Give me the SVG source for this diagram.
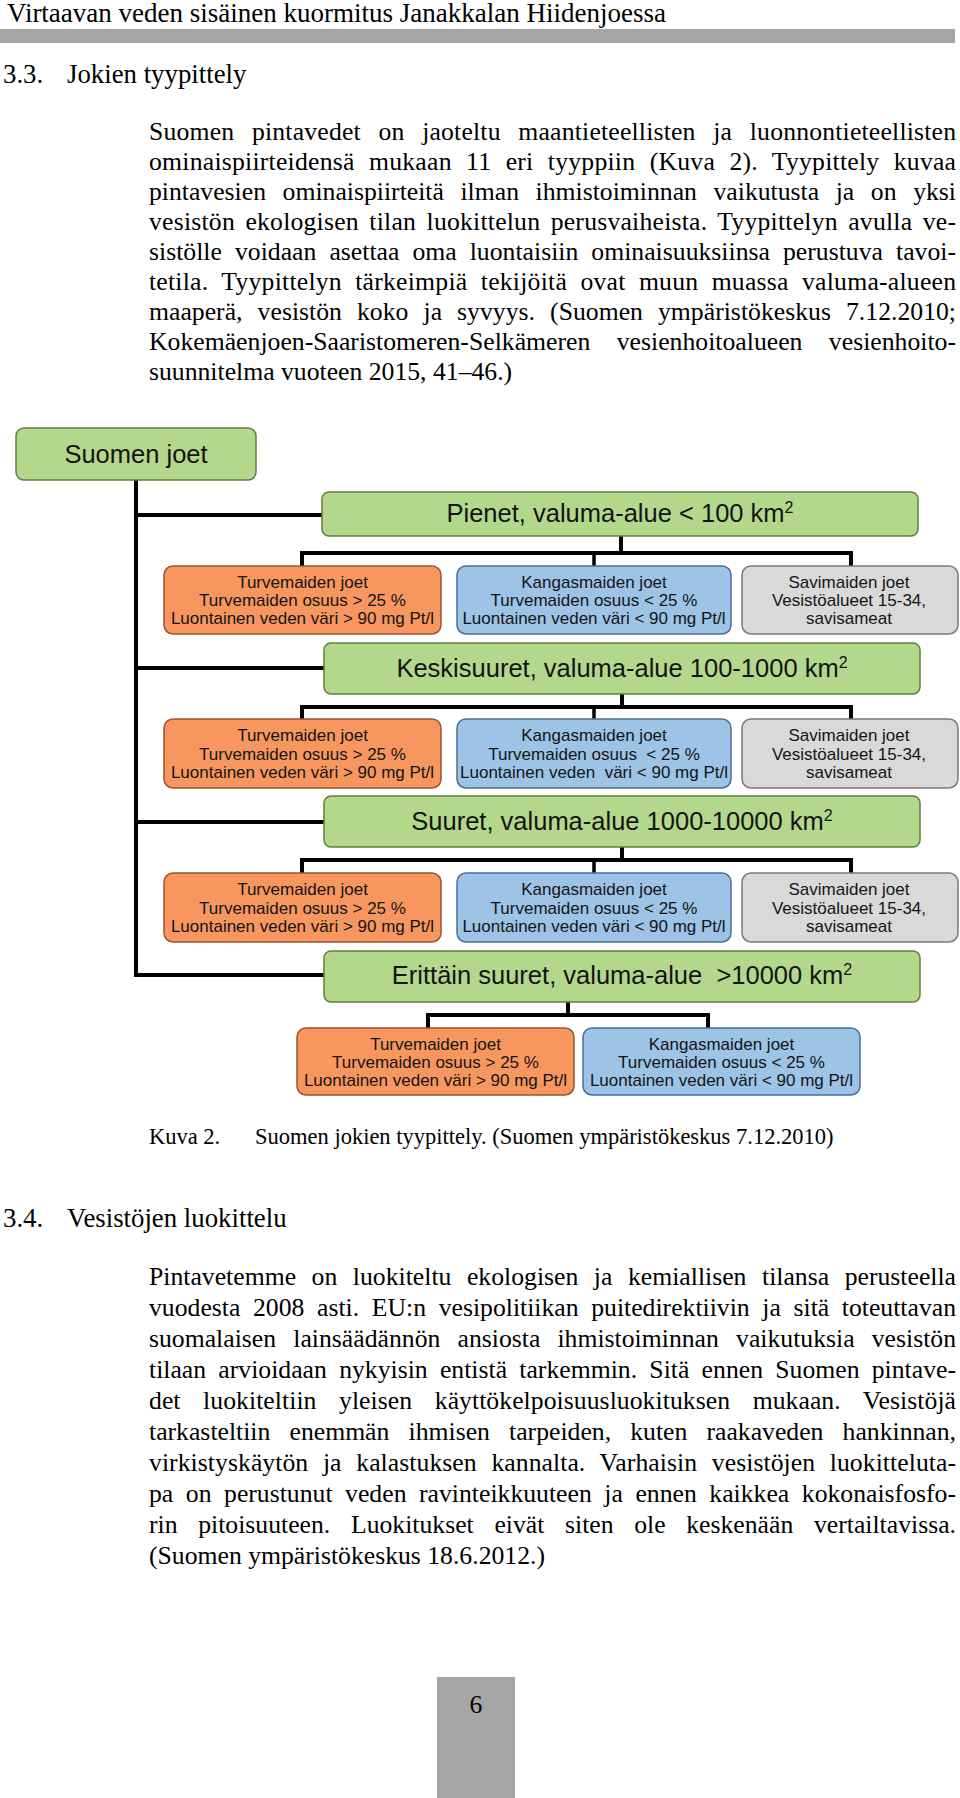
<svg xmlns="http://www.w3.org/2000/svg" width="960" height="1798" viewBox="0 0 960 1798">
<style>
.s{font-family:"Liberation Serif","Times New Roman",serif;fill:#000}
.b{font-size:25.7px}
.hd{font-size:27px}
.h{font-size:26.8px}
.c{font-size:22.5px}
.d{font-family:"Liberation Sans",Arial,sans-serif;fill:#141414;text-anchor:middle}
.lv{font-size:25.5px}
.sm{font-size:17px}
.g{fill:#b3d88b;stroke:#5f7f3c;stroke-width:1.5}
.o{fill:#f7975f;stroke:#9a5330;stroke-width:1.5}
.bl{fill:#9dc3e6;stroke:#4b6e98;stroke-width:1.5}
.gr{fill:#d9d9d9;stroke:#7a7a7a;stroke-width:1.5}
.ln{fill:none;stroke:#000;stroke-width:4;stroke-linejoin:miter;stroke-linecap:butt}
.ln3{fill:none;stroke:#000;stroke-width:3.5}
</style>

<g id="page-header">
<text class="s hd" x="7" y="22">Virtaavan veden sisäinen kuormitus Janakkalan Hiidenjoessa</text>
<rect x="0" y="29" width="955" height="14" fill="#a6a6a6"/>
</g>

<g id="heading-33">
<text class="s h" x="3" y="83">3.3.</text>
<text class="s h" x="67" y="83">Jokien tyypittely</text>
</g>

<g id="paragraph-1" class="s b">
<text x="149" y="140" textLength="807" lengthAdjust="spacing" word-spacing="11">Suomen pintavedet on jaoteltu maantieteellisten ja luonnontieteellisten</text>
<text x="149" y="170" textLength="807" lengthAdjust="spacing" word-spacing="7.7">ominaispiirteidensä mukaan 11 eri tyyppiin (Kuva 2). Tyypittely kuvaa</text>
<text x="149" y="200" textLength="807" lengthAdjust="spacing" word-spacing="10.2">pintavesien ominaispiirteitä ilman ihmistoiminnan vaikutusta ja on yksi</text>
<text x="149" y="230" textLength="807" lengthAdjust="spacing" word-spacing="3.8">vesistön ekologisen tilan luokittelun perusvaiheista. Tyypittelyn avulla ve-</text>
<text x="149" y="260" textLength="807" lengthAdjust="spacing" word-spacing="6.6">sistölle voidaan asettaa oma luontaisiin ominaisuuksiinsa perustuva tavoi-</text>
<text x="149" y="290" textLength="807" lengthAdjust="spacing" word-spacing="6.7">tetila. Tyypittelyn tärkeimpiä tekijöitä ovat muun muassa valuma-alueen</text>
<text x="149" y="320" textLength="807" lengthAdjust="spacing" word-spacing="8.6">maaperä, vesistön koko ja syvyys. (Suomen ympäristökeskus 7.12.2010;</text>
<text x="149" y="350" textLength="807" lengthAdjust="spacing" word-spacing="20">Kokemäenjoen-Saaristomeren-Selkämeren vesienhoitoalueen vesienhoito-</text>
<text x="149" y="380">suunnitelma vuoteen 2015, 41–46.)</text>
</g>

<g id="connectors">
<path class="ln" d="M136,480 V975 H324"/>
<path class="ln" d="M136,515 H322"/>
<path class="ln" d="M136,668 H324"/>
<path class="ln" d="M136,822 H324"/>
<path class="ln" d="M621,536 V553 M302,567 V553 H851 V567"/>
<path class="ln3" d="M594,553 V567"/>
<path class="ln" d="M622,694 V707 M302,720 V707 H851 V720"/>
<path class="ln3" d="M594,707 V720"/>
<path class="ln" d="M622,847 V860 M302,874 V860 H851 V874"/>
<path class="ln3" d="M594,860 V874"/>
<path class="ln" d="M568,1002 V1015 M428,1029 V1015 H708 V1029"/>
</g>

<g id="suomen-joet">
<rect class="g" x="16" y="428" width="240" height="52" rx="8"/>
<text class="d lv" x="136" y="463">Suomen joet</text>
</g>

<g id="pienet">
<rect class="g" x="322" y="492" width="596" height="44" rx="7"/>
<text class="d lv" x="620" y="522">Pienet, valuma-alue &lt; 100 km<tspan font-size="16" dy="-9">2</tspan></text>
</g>

<g id="keskisuuret">
<rect class="g" x="324" y="643" width="596" height="51" rx="7"/>
<text class="d lv" x="622" y="677">Keskisuuret, valuma-alue 100-1000 km<tspan font-size="16" dy="-9">2</tspan></text>
</g>

<g id="suuret">
<rect class="g" x="324" y="796" width="596" height="51" rx="7"/>
<text class="d lv" x="622" y="830">Suuret, valuma-alue 1000-10000 km<tspan font-size="16" dy="-9">2</tspan></text>
</g>

<g id="erittain-suuret">
<rect class="g" x="324" y="951" width="596" height="51" rx="7"/>
<text class="d lv" x="622" y="984" xml:space="preserve">Erittäin suuret, valuma-alue  &gt;10000 km<tspan font-size="16" dy="-9">2</tspan></text>
</g>

<g id="pienet-turve">
<rect class="o" x="164" y="566" width="277" height="68" rx="9"/>
<text class="d sm"><tspan x="302.5" y="587.5">Turvemaiden joet</tspan><tspan x="302.5" y="606">Turvemaiden osuus &gt; 25 %</tspan><tspan x="302.5" y="624">Luontainen veden väri &gt; 90 mg Pt/l</tspan></text>
</g>
<g id="pienet-kangas">
<rect class="bl" x="457" y="566" width="274" height="68" rx="9"/>
<text class="d sm"><tspan x="594" y="587.5">Kangasmaiden joet</tspan><tspan x="594" y="606">Turvemaiden osuus &lt; 25 %</tspan><tspan x="594" y="624">Luontainen veden väri &lt; 90 mg Pt/l</tspan></text>
</g>
<g id="pienet-savi">
<rect class="gr" x="742" y="566" width="216" height="68" rx="9"/>
<text class="d sm"><tspan x="849" y="587.5">Savimaiden joet</tspan><tspan x="849" y="606">Vesistöalueet 15-34,</tspan><tspan x="849" y="624">savisameat</tspan></text>
</g>

<g id="keski-turve">
<rect class="o" x="164" y="719" width="277" height="69" rx="9"/>
<text class="d sm"><tspan x="302.5" y="741">Turvemaiden joet</tspan><tspan x="302.5" y="759.5">Turvemaiden osuus &gt; 25 %</tspan><tspan x="302.5" y="777.5">Luontainen veden väri &gt; 90 mg Pt/l</tspan></text>
</g>
<g id="keski-kangas">
<rect class="bl" x="457" y="719" width="274" height="69" rx="9"/>
<text class="d sm" xml:space="preserve"><tspan x="594" y="741">Kangasmaiden joet</tspan><tspan x="594" y="759.5">Turvemaiden osuus  &lt; 25 %</tspan><tspan x="594" y="777.5">Luontainen veden  väri &lt; 90 mg Pt/l</tspan></text>
</g>
<g id="keski-savi">
<rect class="gr" x="742" y="719" width="216" height="69" rx="9"/>
<text class="d sm"><tspan x="849" y="741">Savimaiden joet</tspan><tspan x="849" y="759.5">Vesistöalueet 15-34,</tspan><tspan x="849" y="777.5">savisameat</tspan></text>
</g>

<g id="suuret-turve">
<rect class="o" x="164" y="873" width="277" height="69" rx="9"/>
<text class="d sm"><tspan x="302.5" y="895">Turvemaiden joet</tspan><tspan x="302.5" y="913.5">Turvemaiden osuus &gt; 25 %</tspan><tspan x="302.5" y="931.5">Luontainen veden väri &gt; 90 mg Pt/l</tspan></text>
</g>
<g id="suuret-kangas">
<rect class="bl" x="457" y="873" width="274" height="69" rx="9"/>
<text class="d sm"><tspan x="594" y="895">Kangasmaiden joet</tspan><tspan x="594" y="913.5">Turvemaiden osuus &lt; 25 %</tspan><tspan x="594" y="931.5">Luontainen veden väri &lt; 90 mg Pt/l</tspan></text>
</g>
<g id="suuret-savi">
<rect class="gr" x="742" y="873" width="216" height="69" rx="9"/>
<text class="d sm"><tspan x="849" y="895">Savimaiden joet</tspan><tspan x="849" y="913.5">Vesistöalueet 15-34,</tspan><tspan x="849" y="931.5">savisameat</tspan></text>
</g>

<g id="erittain-turve">
<rect class="o" x="297" y="1028" width="277" height="67" rx="9"/>
<text class="d sm"><tspan x="435.5" y="1049.5">Turvemaiden joet</tspan><tspan x="435.5" y="1068">Turvemaiden osuus &gt; 25 %</tspan><tspan x="435.5" y="1086">Luontainen veden väri &gt; 90 mg Pt/l</tspan></text>
</g>
<g id="erittain-kangas">
<rect class="bl" x="583" y="1028" width="277" height="67" rx="9"/>
<text class="d sm"><tspan x="721.5" y="1049.5">Kangasmaiden joet</tspan><tspan x="721.5" y="1068">Turvemaiden osuus &lt; 25 %</tspan><tspan x="721.5" y="1086">Luontainen veden väri &lt; 90 mg Pt/l</tspan></text>
</g>

<g id="caption">
<text class="s c" x="149" y="1144">Kuva 2.</text>
<text class="s c" x="255" y="1144">Suomen jokien tyypittely. (Suomen ympäristökeskus 7.12.2010)</text>
</g>

<g id="heading-34">
<text class="s h" x="3" y="1227">3.4.</text>
<text class="s h" x="67" y="1227">Vesistöjen luokittelu</text>
</g>

<g id="paragraph-2" class="s b">
<text x="149" y="1285" textLength="807" lengthAdjust="spacing" word-spacing="9.1">Pintavetemme on luokiteltu ekologisen ja kemiallisen tilansa perusteella</text>
<text x="149" y="1316" textLength="807" lengthAdjust="spacing" word-spacing="6.2">vuodesta 2008 asti. EU:n vesipolitiikan puitedirektiivin ja sitä toteuttavan</text>
<text x="149" y="1347" textLength="807" lengthAdjust="spacing" word-spacing="10.7">suomalaisen lainsäädännön ansiosta ihmistoiminnan vaikutuksia vesistön</text>
<text x="149" y="1378" textLength="807" lengthAdjust="spacing" word-spacing="5.8">tilaan arvioidaan nykyisin entistä tarkemmin. Sitä ennen Suomen pintave-</text>
<text x="149" y="1409" textLength="807" lengthAdjust="spacing" word-spacing="16.1">det luokiteltiin yleisen käyttökelpoisuusluokituksen mukaan. Vesistöjä</text>
<text x="149" y="1440" textLength="807" lengthAdjust="spacing" word-spacing="12.7">tarkasteltiin enemmän ihmisen tarpeiden, kuten raakaveden hankinnan,</text>
<text x="149" y="1471" textLength="807" lengthAdjust="spacing" word-spacing="8.2">virkistyskäytön ja kalastuksen kannalta. Varhaisin vesistöjen luokitteluta-</text>
<text x="149" y="1502" textLength="807" lengthAdjust="spacing" word-spacing="6.1">pa on perustunut veden ravinteikkuuteen ja ennen kaikkea kokonaisfosfo-</text>
<text x="149" y="1533" textLength="807" lengthAdjust="spacing" word-spacing="14.2">rin pitoisuuteen. Luokitukset eivät siten ole keskenään vertailtavissa.</text>
<text x="149" y="1564">(Suomen ympäristökeskus 18.6.2012.)</text>
</g>

<g id="page-number">
<rect x="437" y="1677" width="78" height="121" fill="#a6a6a6"/>
<text class="s b" x="476" y="1713" text-anchor="middle">6</text>
</g>
</svg>
